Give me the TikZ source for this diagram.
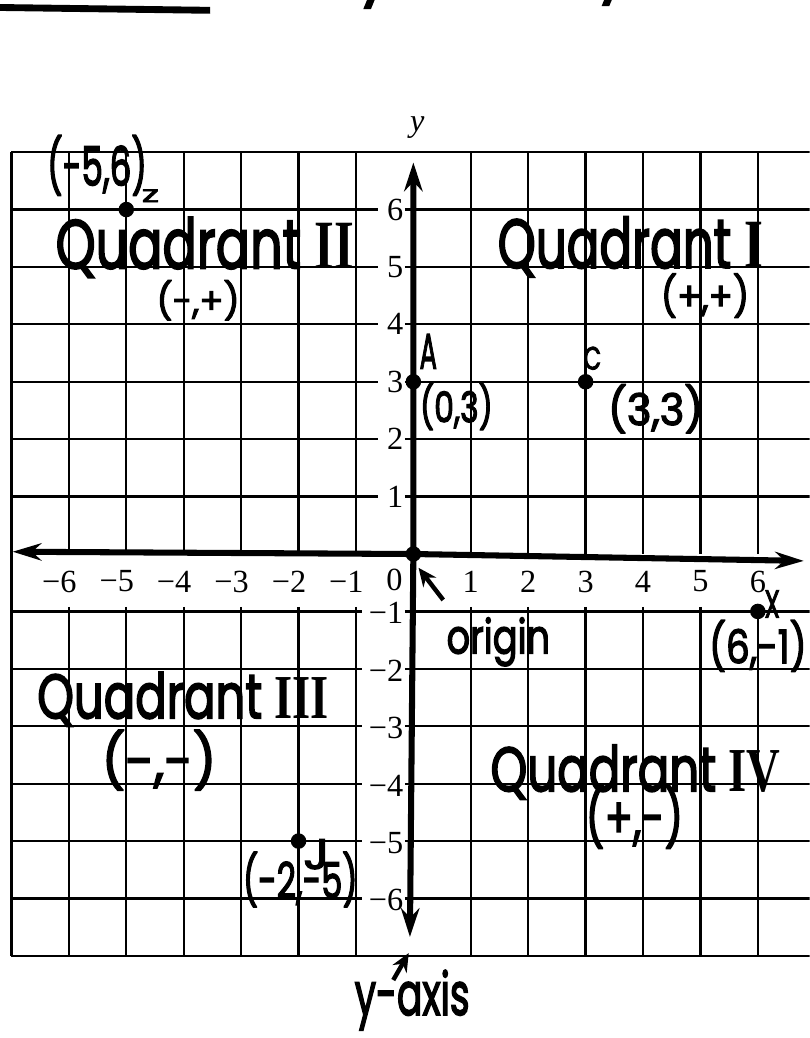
\documentclass[tikz,border=0pt]{standalone}
\usepackage{fontspec}
\usepackage{graphicx}
\setmainfont{Liberation Serif}
\newfontfamily\hand{Poppins}[FakeBold=3]
\usetikzlibrary{arrows.meta}
\newcommand\hw[3]{\resizebox*{#1cm}{#2cm}{\hand #3}}
\begin{document}
\begin{tikzpicture}[
  gridline/.style={line width=1.1pt, black},
  axisline/.style={line width=3pt, black, line cap=round},
  pt/.style={circle, fill=black, inner sep=0pt, minimum size=0.27cm},
  hwlabel/.style={inner sep=0pt},
  ticklab/.style={inner sep=0pt, font=\fontsize{16}{16}\selectfont},
  pointer/.style={line width=2.2pt, -{Stealth[length=0.32cm,width=0.28cm]}},
  hdr/.style={inner sep=0pt, font=\hand\fontsize{30}{30}\selectfont}
]
\useasboundingbox (-7.2,-8.43) rectangle (6.9,9.65);
\clip (-7.2,-8.43) rectangle (6.9,9.65);

% header fragments (cut off at the top)
\draw[line width=3.4pt] (-7.25,9.52) -- (-3.54,9.47);
\node[hdr, anchor=south west] (hdA) at (-6.9,9.68) {Notes 2};
\node[hdr, anchor=south east] (hdB) at (-0.38,9.5) {Identify};
\node[hdr, anchor=south west] (hdC) at (2.45,9.55) {by the Coordinate};

% grid
\draw[gridline] (-7,7) -- (7.2,7);
\draw[gridline] (-7,-7) -- (7.2,-7);
\foreach \y in {1,...,6} {
  \draw[gridline] (-7,\y) -- (-0.61,\y);
  \draw[gridline] (0,\y) -- (7.2,\y);
  \draw[gridline] (0,-\y) -- (7.2,-\y);
  \draw[gridline] (-7,-\y) -- (-0.89,-\y);
  \draw[gridline] (-0.15,\y) -- (0,\y);
  \draw[gridline] (-0.15,-\y) -- (0,-\y);
}
\draw[gridline] (-7,7) -- (-7,-7);
\foreach \x in {-6,-5,-4,-3,-2,-1,1,2,3,4,5,6,7} {
  \draw[gridline] (\x,7) -- (\x,0);
  \draw[gridline] (\x,-0.92) -- (\x,-7);
}

% tick labels
\foreach \x in {1,...,6} {
  \node[ticklab] (tp\x) at (\x,-0.48) {\x};
  \node[ticklab, anchor=east] (tn\x) at (-\x+0.14,-0.48) {−\x};
  \node[ticklab, anchor=east] (yp\x) at (-0.17,\x) {\x};
  \node[ticklab, anchor=east] (yn\x) at (-0.17,-\x-0.03) {−\x};
}
\node[ticklab] (t0) at (-0.33,-0.45) {0};
\node[ticklab] (ylab) at (0.07,7.42) {\textit{y}};

% points
\node[pt] (O) at (0,0) {};
\node[pt] (Z) at (-5,6) {};
\node[pt] (A) at (0,3) {};
\node[pt] (C) at (3,3) {};
\node[pt] (X) at (6,-1) {};
\node[pt] (J) at (-2,-5) {};

% axes
\coordinate (xl) at (-6.98,0.04);
\coordinate (xr) at (6.8,-0.12);
\coordinate (yt) at (0,6.82);
\coordinate (yb) at (-0.06,-6.67);
\draw[axisline, {Stealth[length=0.5cm,width=0.3cm]}-{Stealth[length=0.5cm,width=0.3cm]}] (xl) -- (O.center) -- (xr);
\draw[axisline, {Stealth[length=0.5cm,width=0.32cm]}-{Stealth[length=0.5cm,width=0.32cm]}] (yt) -- (O.center) -- (yb);

% handwritten labels
\node[hwlabel] (lZ) at (-5.51,6.77) {\hw{1.74}{1.05}{(-5,6)}};
\node[hwlabel] (nZ) at (-4.58,6.24) {\hw{0.3}{0.22}{z}};
\node[hwlabel] (q2) at (-3.63,5.34) {\hw{5.2}{1.05}{Quadrant {\rmfamily\bfseries II}}};
\node[hwlabel] (s2) at (-3.75,4.42) {\hw{1.45}{0.7}{(-,+)}};
\node[hwlabel] (q1) at (3.78,5.35) {\hw{4.62}{1.05}{Quadrant {\rmfamily\bfseries I}}};
\node[hwlabel] (s1) at (5.08,4.5) {\hw{1.54}{0.77}{(+,+)}};
\node[hwlabel] (nA) at (0.26,3.53) {\hw{0.3}{0.6}{A}};
\node[hwlabel] (lA) at (0.75,2.57) {\hw{1.27}{0.82}{(0,3)}};
\node[hwlabel] (nC) at (3.12,3.41) {\hw{0.3}{0.4}{C}};
\node[hwlabel] (lC) at (4.22,2.53) {\hw{1.66}{0.85}{(3,3)}};
\node[hwlabel] (lO) at (1.48,-1.53) {\hw{1.8}{0.85}{origin}};
\node[hwlabel] (nX) at (6.25,-0.87) {\hw{0.27}{0.47}{X}};
\node[hwlabel] (lX) at (6.0,-1.6) {\hw{1.7}{0.9}{(6,-1)}};
\node[hwlabel] (q3) at (-4.01,-2.53) {\hw{5.08}{0.95}{Quadrant {\rmfamily\bfseries III}}};
\node[hwlabel] (s3) at (-4.43,-3.59) {\hw{2.0}{1.05}{(-,-)}};
\node[hwlabel] (q4) at (3.87,-3.8) {\hw{5.05}{0.95}{Quadrant {\rmfamily\bfseries IV}}};
\node[hwlabel] (s4) at (3.85,-4.58) {\hw{1.7}{1.1}{(+,-)}};
\node[hwlabel] (nJ) at (-1.69,-5.23) {\hw{0.45}{0.52}{J}};
\node[hwlabel] (lJ) at (-1.97,-5.67) {\hw{2.0}{0.96}{(-2,-5)}};
\node[hwlabel] (yax) at (-0.02,-7.77) {\hw{2.0}{1.05}{y-axis}};

% pointers
\coordinate (oTail) at (0.52,-0.8);
\coordinate (oHead) at (0.09,-0.24);
\draw[pointer] (oTail) -- (oHead);
\coordinate (yTail) at (-0.35,-7.42);
\coordinate (yHead) at (-0.08,-6.95);
\draw[pointer] (yTail) -- (yHead);
\end{tikzpicture}
\end{document}
